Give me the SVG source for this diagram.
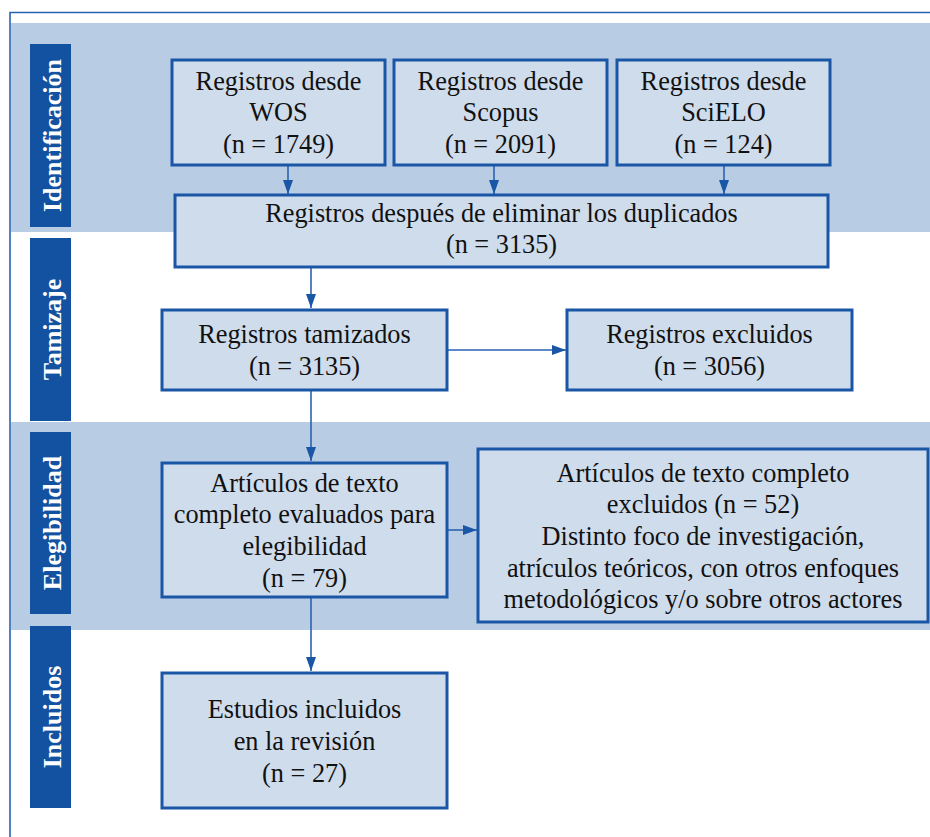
<svg xmlns="http://www.w3.org/2000/svg" width="930" height="837" viewBox="0 0 930 837">
<defs>
<marker id="ah" viewBox="0 0 14 10" refX="14" refY="5" markerWidth="14" markerHeight="10" markerUnits="userSpaceOnUse" orient="auto">
<path d="M0,0 L14,5 L0,10 Z" fill="#1a56a6"/>
</marker>
</defs>
<style>
.band{fill:#b8cce4}
.bar{fill:#1351a1}
.lbl{font-family:"Liberation Serif",serif;font-weight:bold;font-size:26px;fill:#ffffff;text-anchor:middle}
.box{fill:#cfdcec;stroke:#1a56a6;stroke-width:3}
.t{font-family:"Liberation Serif",serif;font-size:26.3px;fill:#111111;text-anchor:middle}
.c{stroke:#2a62b0;stroke-width:1.6;fill:none;marker-end:url(#ah)}
</style>
<rect width="930" height="837" fill="#ffffff"/>
<rect class="band" x="11" y="23" width="919" height="209"/>
<rect class="band" x="11" y="422" width="919" height="208"/>
<path d="M10,837 L10,12.5 L930,12.5" fill="none" stroke="#2a62b5" stroke-width="1.6"/>
<g id="lbl-identificacion"><rect class="bar" x="30" y="44" width="41" height="183"/><text class="lbl" transform="translate(61,135.5) rotate(-90)">Identificación</text></g>
<g id="lbl-tamizaje"><rect class="bar" x="30" y="238" width="41" height="183"/><text class="lbl" transform="translate(61,329.5) rotate(-90)">Tamizaje</text></g>
<g id="lbl-elegibilidad"><rect class="bar" x="30" y="432" width="41" height="182"/><text class="lbl" transform="translate(61,523) rotate(-90)">Elegibilidad</text></g>
<g id="lbl-incluidos"><rect class="bar" x="30" y="626" width="41" height="182"/><text class="lbl" transform="translate(61,717) rotate(-90)">Incluidos</text></g>
<g id="connectors">
<line class="c" x1="288" y1="166" x2="288" y2="194"/>
<line class="c" x1="494" y1="166" x2="494" y2="194"/>
<line class="c" x1="724" y1="166" x2="724" y2="194"/>
<line class="c" x1="311" y1="268" x2="311" y2="308"/>
<line class="c" x1="448" y1="350" x2="566" y2="350"/>
<line class="c" x1="311" y1="391" x2="311" y2="461"/>
<line class="c" x1="448" y1="530" x2="477" y2="530"/>
<line class="c" x1="311" y1="598" x2="311" y2="671"/>
</g>
<g id="wos"><rect class="box" x="172" y="60" width="213" height="105"/><text class="t" x="278.5" y="90">Registros desde</text><text class="t" x="278.5" y="121">WOS</text><text class="t" x="278.5" y="153">(n = 1749)</text></g>
<g id="scopus"><rect class="box" x="394" y="60" width="213" height="105"/><text class="t" x="500.5" y="90">Registros desde</text><text class="t" x="500.5" y="121">Scopus</text><text class="t" x="500.5" y="153">(n = 2091)</text></g>
<g id="scielo"><rect class="box" x="617" y="60" width="213" height="105"/><text class="t" x="723.5" y="90">Registros desde</text><text class="t" x="723.5" y="121">SciELO</text><text class="t" x="723.5" y="153">(n = 124)</text></g>
<g id="duplicados"><rect class="box" x="175" y="195" width="653" height="72"/><text class="t" x="501.5" y="222">Registros después de eliminar los duplicados</text><text class="t" x="501.5" y="253">(n = 3135)</text></g>
<g id="tamizados"><rect class="box" x="162" y="310" width="285" height="80"/><text class="t" x="304.5" y="343">Registros tamizados</text><text class="t" x="304.5" y="375">(n = 3135)</text></g>
<g id="excluidos"><rect class="box" x="567" y="310" width="285" height="80"/><text class="t" x="709.5" y="343">Registros excluidos</text><text class="t" x="709.5" y="375">(n = 3056)</text></g>
<g id="evaluados"><rect class="box" x="162" y="463" width="285" height="134"/><text class="t" x="304.5" y="492">Artículos de texto</text><text class="t" x="304.5" y="523">completo evaluados para</text><text class="t" x="304.5" y="555">elegibilidad</text><text class="t" x="304.5" y="587">(n = 79)</text></g>
<g id="excluidos-texto"><rect class="box" x="478" y="449" width="450" height="173"/><text class="t" x="703" y="482">Artículos de texto completo</text><text class="t" x="703" y="513">excluidos (n = 52)</text><text class="t" x="703" y="545">Distinto foco de investigación,</text><text class="t" x="703" y="577">atrículos teóricos, con otros enfoques</text><text class="t" x="703" y="608">metodológicos y/o sobre otros actores</text></g>
<g id="incluidos"><rect class="box" x="162" y="673" width="285" height="135"/><text class="t" x="304.5" y="718">Estudios incluidos</text><text class="t" x="304.5" y="750">en la revisión</text><text class="t" x="304.5" y="782">(n = 27)</text></g>
</svg>
